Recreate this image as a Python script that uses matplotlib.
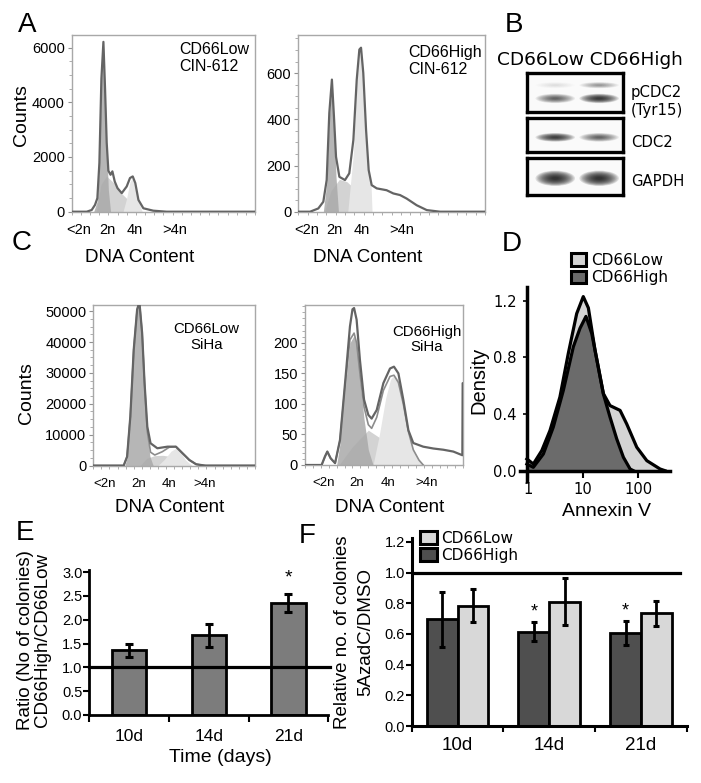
import matplotlib
matplotlib.use('Agg')
import matplotlib.pyplot as plt
from matplotlib.patches import Ellipse, Patch
from matplotlib.ticker import MultipleLocator, FixedLocator, NullFormatter, FixedFormatter
import numpy as np

plt.rcParams['font.family'] = ['Liberation Sans', 'DejaVu Sans']

# ---------------- data ----------------
ploidy = ['<2n', '2n', '4n', '>4n']

# Panel A left: CD66Low CIN-612 (channel 0-1000, counts)
AL_x = [0, 82, 109, 127, 140, 151, 162, 173, 182, 191, 200, 212, 222, 235, 250, 273, 300, 318, 333, 347, 364, 391, 445, 518, 1000]
AL_y = [0, 0, 62, 247, 494, 1784, 4855, 6209, 4487, 2521, 1500, 1350, 1475, 1100, 860, 678, 922, 1231, 1290, 1047, 431, 125, 37, 0, 0]
AL_g1_x = [120, 140, 151, 162, 173, 182, 191, 200, 212]
AL_g1_y = [0, 400, 1700, 4800, 6150, 4400, 2300, 800, 0]
AL_s_x = [135, 160, 190, 230, 270, 310, 345, 375]
AL_s_y = [0, 1000, 1300, 1050, 680, 420, 180, 0]
AL_g2_x = [280, 300, 318, 333, 347, 364, 385]
AL_g2_y = [0, 500, 1100, 1250, 1000, 400, 0]

# Panel A right: CD66High CIN-612
AR_x = [0, 63, 107, 134, 152, 166, 180, 191, 202, 220, 250, 273, 295, 313, 327, 336, 348, 363, 377, 393, 420, 473, 509, 545, 580, 634, 688, 759, 1000]
AR_y = [0, 0, 14, 43, 137, 427, 572, 412, 238, 151, 137, 166, 311, 572, 702, 710, 601, 354, 180, 115, 101, 93, 79, 72, 57, 28, 7, 0, 0]
AR_g1_x = [134, 152, 166, 180, 191, 202, 215]
AR_g1_y = [0, 120, 410, 560, 400, 150, 0]
AR_s_x = [140, 175, 220, 260, 300, 340, 385]
AR_s_y = [0, 90, 140, 130, 100, 55, 0]
AR_g2_x = [265, 295, 313, 327, 336, 348, 363, 377, 390, 395]
AR_g2_y = [0, 250, 560, 690, 700, 590, 350, 170, 110, 0]

# Panel C left: CD66Low SiHa
CL_x = [0, 188, 209, 229, 250, 271, 285, 302, 317, 334, 354, 396, 459, 511, 552, 594, 636, 688, 1000]
CL_y = [0, 0, 2857, 15845, 37500, 50490, 53000, 42920, 26690, 12600, 7208, 5585, 6104, 6104, 3961, 1786, 400, 0, 0]
CL_fit_x = [188, 209, 229, 250, 271, 285, 302, 317, 334, 354, 380, 427, 469, 511, 552, 594, 636, 688]
CL_fit_y = [0, 2857, 15845, 37500, 50490, 53000, 42920, 26690, 11000, 4300, 3400, 4480, 5900, 6104, 3961, 1786, 400, 0]
CL_g1_x = [195, 209, 229, 250, 271, 285, 302, 317, 334, 350, 370]
CL_g1_y = [0, 2500, 15000, 37000, 50000, 53000, 42000, 25000, 10000, 3000, 0]
CL_s_x = [290, 330, 380, 430, 480, 530, 570]
CL_s_y = [0, 2300, 3200, 3300, 2900, 1700, 0]
CL_g2_x = [400, 440, 480, 511, 540, 570, 610]
CL_g2_y = [0, 2000, 4600, 5600, 4300, 1800, 0]

# Panel C right: CD66High SiHa
CR_x = [0, 105, 126, 141, 162, 190, 221, 253, 284, 300, 310, 326, 347, 373, 400, 421, 453, 495, 537, 562, 590, 621, 653, 684, 747, 811, 874, 937, 994, 996, 1000]
CR_y = [0, 0, 14, 22, 11, 3, 41, 134, 227, 255, 257, 238, 172, 107, 82, 76, 90, 134, 158, 161, 150, 107, 57, 36, 30, 27, 25, 22, 16, 134, 134]
CR_fit_x = [105, 126, 141, 162, 190, 221, 253, 284, 310, 326, 347, 373, 400, 421, 453, 495, 537, 562, 590, 621, 653, 684, 720, 747]
CR_fit_y = [0, 13, 22, 11, 3, 40, 130, 205, 216, 200, 150, 95, 66, 60, 78, 122, 145, 147, 135, 100, 55, 25, 8, 0]
CR_g1_x = [200, 221, 253, 284, 310, 326, 347, 373, 400, 430]
CR_g1_y = [0, 35, 125, 200, 212, 195, 140, 75, 25, 0]
CR_s_x = [215, 300, 400, 470, 540, 620]
CR_s_y = [0, 30, 57, 45, 20, 0]
CR_g2_x = [430, 470, 510, 540, 562, 590, 621, 653, 684, 720, 750]
CR_g2_y = [0, 50, 110, 140, 147, 140, 105, 58, 25, 8, 0]

# Panel B: western blot band intensities (lanes: CD66Low, CD66High)
lanes = ['CD66Low', 'CD66High']
pcdc2_main = [0.55, 0.9]
pcdc2_upper = [0.08, 0.3]
cdc2_band = [0.85, 0.55]
gapdh_band = [1.0, 1.0]

# Panel D: Annexin V density
groups = ['CD66Low', 'CD66High']
D_low_x = [0.955, 1.25, 1.78, 2.51, 3.80, 5.41, 7.67, 10.1, 12.5, 16.5, 23.4, 30.9, 47.1, 62.2, 94.6, 144, 251, 309]
D_low_d = [0.083, 0.047, 0.142, 0.284, 0.52, 0.83, 1.11, 1.23, 1.15, 0.852, 0.545, 0.46, 0.426, 0.33, 0.166, 0.071, 0.012, 0.0]
D_high_x = [0.955, 1.25, 1.90, 2.88, 4.39, 6.67, 8.8, 11.3, 14.4, 17.5, 23.5, 30.9, 40.9, 54.1, 71.6, 82.2]
D_high_d = [0.047, 0.024, 0.118, 0.308, 0.568, 0.876, 1.006, 1.09, 0.97, 0.80, 0.54, 0.379, 0.225, 0.095, 0.012, 0.0]

# Panel E
days = ['10d', '14d', '21d']
E_ratio = [1.36, 1.67, 2.36]
E_err = [0.14, 0.25, 0.19]
E_sig = [False, False, True]

# Panel F
F_high = [0.695, 0.615, 0.605]
F_high_err = [0.18, 0.06, 0.076]
F_low = [0.785, 0.81, 0.735]
F_low_err = [0.105, 0.152, 0.082]
F_sig = [False, True, True]

# ---------------- figure ----------------
W, H = 701, 783
fig = plt.figure(figsize=(W / 100, H / 100), dpi=100)


def px_axes(l, t, r, b):
    return fig.add_axes([l / W, 1 - b / H, (r - l) / W, (b - t) / H])


def ftext(x, y, s, **kw):
    return fig.text(x / W, 1 - y / H, s, **kw)


def flow_hist(ax, x, y, fit, g1, s, g2, ylim, yticks, yminor, tick_pos, tick_fs, xt_pad,
              label, lxy, lha, lfs):
    ax.fill_between(s[0], s[1], color='#d3d3d3', lw=0, zorder=1)
    ax.fill_between(g2[0], g2[1], color='#e6e6e6', lw=0, zorder=1)
    ax.fill_between(g1[0], g1[1], color='#a9a9a9', lw=0, alpha=0.85, zorder=2)
    if fit is not None:
        ax.plot(fit[0], fit[1], color='#8c8c8c', lw=1.2, zorder=3)
    ax.plot(x, y, color='#646464', lw=1.6, zorder=4)
    ax.set_xlim(0, 1000)
    ax.set_ylim(*ylim)
    for sp in ax.spines.values():
        sp.set_color('#a8a8a8')
        sp.set_linewidth(1.0)
    ax.set_yticks(yticks)
    ax.yaxis.set_minor_locator(MultipleLocator(yminor))
    ax.tick_params(axis='y', which='major', length=3, color='#909090', labelsize=10.5, pad=2)
    ax.tick_params(axis='y', which='minor', length=2, color='#a0a0a0')
    ax.set_xticks(tick_pos)
    ax.set_xticklabels(ploidy)
    ax.xaxis.set_minor_locator(MultipleLocator(50))
    ax.tick_params(axis='x', which='major', length=0, labelsize=tick_fs, pad=xt_pad)
    ax.tick_params(axis='x', which='minor', length=2.5, color='#a0a0a0')
    ax.text(lxy[0], lxy[1], label, transform=ax.transAxes, ha=lha, va='center',
            fontsize=lfs, linespacing=1.15, multialignment=lha)


# Panel A
axAL = px_axes(71.7, 35, 255, 211.7)
flow_hist(axAL, AL_x, AL_y, None, (AL_g1_x, AL_g1_y), (AL_s_x, AL_s_y), (AL_g2_x, AL_g2_y),
          (0, 6460), [0, 2000, 4000, 6000], 500, [37, 193, 345, 562], 10.5, 8,
          'CD66Low\nCIN-612', (0.585, 0.869), 'left', 11.5)
axAR = px_axes(298.3, 35, 485, 211.7)
flow_hist(axAR, AR_x, AR_y, None, (AR_g1_x, AR_g1_y), (AR_s_x, AR_s_y), (AR_g2_x, AR_g2_y),
          (0, 765), [0, 200, 400, 600], 50, [45, 191, 341, 555], 10.5, 8,
          'CD66High\nCIN-612', (0.589, 0.854), 'left', 11.5)

# Panel C
axCL = px_axes(93.3, 305, 255, 465.5)
flow_hist(axCL, CL_x, CL_y, (CL_fit_x, CL_fit_y), (CL_g1_x, CL_g1_y), (CL_s_x, CL_s_y), (CL_g2_x, CL_g2_y),
          (0, 52000), [0, 10000, 20000, 30000, 40000, 50000], 2500, [73, 281, 469, 688], 9.5, 9,
          'CD66Low\nSiHa', (0.70, 0.80), 'center', 10.8)
axCR = px_axes(305, 305, 463.3, 465)
flow_hist(axCR, CR_x, CR_y, (CR_fit_x, CR_fit_y), (CR_g1_x, CR_g1_y), (CR_s_x, CR_s_y), (CR_g2_x, CR_g2_y),
          (0, 262), [0, 50, 100, 150, 200], 10, [116, 327, 526, 769], 9.5, 9,
          'CD66High\nSiHa', (0.77, 0.784), 'center', 10.8)

for (x, y) in [(140, 257), (368, 257), (170, 507), (390, 507)]:
    ftext(x, y, 'DNA Content', ha='center', va='center', fontsize=13.5)
ftext(21.7, 115, 'Counts', ha='center', va='center', rotation=90, fontsize=14)
ftext(26.7, 393, 'Counts', ha='center', va='center', rotation=90, fontsize=14)

# Panel B: western blot
ftext(590, 60, ' '.join(lanes), ha='center', va='center', fontsize=13.3, family='DejaVu Sans')


def blot_box(t, b, bands, label, label_y):
    ax = px_axes(526.7, t, 623.3, b)
    ax.set_xlim(-0.65, 1.55)
    ax.set_ylim(0, 1)
    ax.set_xticks([])
    ax.set_yticks([])
    ax.set_facecolor('#fafafa')
    for sp in ax.spines.values():
        sp.set_linewidth(2.4)
        sp.set_color('black')
    for intens, yc, hgt in bands:
        for lane, val in enumerate(intens):
            for k in range(14):
                sc = 1 - k * 0.065
                ax.add_patch(Ellipse((lane, yc), 0.9 * sc, hgt * sc, facecolor='#111111',
                                     alpha=min(1, val * 0.12), lw=0))
    ftext(631, label_y, label, ha='left', va='center', fontsize=10.7,
          family='DejaVu Sans', linespacing=1.25)


blot_box(72.7, 111.7, [(pcdc2_main, 0.34, 0.24), (pcdc2_upper, 0.68, 0.16)], 'pCDC2\n(Tyr15)', 102)
blot_box(118.3, 151.7, [(cdc2_band, 0.43, 0.26)], 'CDC2', 142.7)
blot_box(158.3, 195, [(gapdh_band, 0.455, 0.42)], 'GAPDH', 181.7)

# Panel D
axD = px_axes(520, 286.7, 670, 470.7)
axD.set_xscale('log')
axD.set_xlim(0.716, 380)
axD.set_ylim(0, 1.30)
axD.fill_between(D_low_x, D_low_d, color='#d4d4d4', lw=0, zorder=1)
axD.fill_between(D_high_x, D_high_d, color='#6b6b6b', lw=0, zorder=2)
axD.plot(D_low_x, D_low_d, color='black', lw=2.3, zorder=3)
axD.plot(D_high_x, D_high_d, color='black', lw=2.3, zorder=4)
for sp in ['top', 'right']:
    axD.spines[sp].set_visible(False)
axD.spines['left'].set_position(('data', 0.946))
axD.spines['left'].set_bounds(-0.07, 1.30)
axD.spines['left'].set_linewidth(2.5)
axD.spines['bottom'].set_linewidth(2.5)
axD.set_yticks([0.0, 0.4, 0.8, 1.2])
axD.set_yticklabels(['0.0', '0.4', '0.8', '1.2'])
axD.xaxis.set_major_locator(FixedLocator([1, 10, 100]))
axD.xaxis.set_major_formatter(FixedFormatter(['1', '10', '100']))
axD.xaxis.set_minor_locator(FixedLocator([]))
axD.tick_params(axis='y', length=3, width=1.2, labelsize=10.6, pad=4)
axD.tick_params(axis='x', length=5, width=1.5, labelsize=10.6, pad=3)
for lab in axD.get_xticklabels() + axD.get_yticklabels():
    lab.set_family('DejaVu Sans')
ftext(479, 380, 'Density', ha='center', va='center', rotation=90, fontsize=14.5)
ftext(606.7, 511.7, 'Annexin V', ha='center', va='center', fontsize=14)
handlesD = [Patch(facecolor=c, edgecolor='black', lw=2.2) for c in ['#d4d4d4', '#6b6b6b']]
axD.legend(handlesD, groups, loc='upper left', bbox_to_anchor=(571 / W, 1 - 253 / H),
           bbox_transform=fig.transFigure, frameon=False, handlelength=1.0, handleheight=0.9,
           handletextpad=0.3, labelspacing=0.15, borderpad=0, borderaxespad=0,
           prop={'family': 'DejaVu Sans', 'size': 11})

# Panel E
axE = px_axes(89.3, 569.8, 328.3, 715)
xE = np.arange(len(days)) + 0.5
axE.bar(xE, E_ratio, width=0.43, color='#7c7c7c', edgecolor='black', lw=2, zorder=2)
axE.errorbar(xE, E_ratio, yerr=E_err, fmt='none', ecolor='black', elinewidth=2,
             capsize=2.6, capthick=2.2, zorder=3)
axE.plot([0, 3.02], [1, 1], color='black', lw=2.3, zorder=4, clip_on=False)
for xi, v, e, sg in zip(xE, E_ratio, E_err, E_sig):
    if sg:
        axE.text(xi, v + e + 0.32, '*', ha='center', va='center', fontsize=14)
axE.set_xlim(0, 3)
axE.set_ylim(0, 3.05)
for sp in ['top', 'right']:
    axE.spines[sp].set_visible(False)
axE.spines['left'].set_linewidth(2)
axE.spines['bottom'].set_linewidth(2)
axE.set_yticks(np.arange(0, 3.01, 0.5))
axE.set_yticklabels(['%.1f' % v for v in np.arange(0, 3.01, 0.5)])
axE.set_xticks([0, 1, 2, 3])
axE.xaxis.set_major_formatter(NullFormatter())
axE.set_xticks(xE, minor=True)
axE.set_xticklabels(days, minor=True)
axE.tick_params(axis='y', length=4, width=1.5, labelsize=10.5, pad=1)
axE.tick_params(axis='x', which='major', length=5, width=1.5)
axE.tick_params(axis='x', which='minor', length=0, labelsize=12.5, pad=10)
ftext(220, 757, 'Time (days)', ha='center', va='center', fontsize=14)
ftext(34, 640, 'Ratio (No of colonies)\nCD66High/CD66Low', ha='center', va='center',
      rotation=90, fontsize=13.5, linespacing=1.0)

# Panel F
axF = px_axes(411.7, 538.3, 686.7, 726)
xF = np.arange(len(days)) + 0.5
bw = 0.335
axF.bar(xF - bw / 2, F_high, width=bw, color='#4f4f4f', edgecolor='black', lw=2, zorder=2)
axF.bar(xF + bw / 2, F_low, width=bw, color='#d8d8d8', edgecolor='black', lw=2, zorder=2)
axF.errorbar(xF - bw / 2, F_high, yerr=F_high_err, fmt='none', ecolor='black', elinewidth=2,
             capsize=2.4, capthick=2.2, zorder=3)
axF.errorbar(xF + bw / 2, F_low, yerr=F_low_err, fmt='none', ecolor='black', elinewidth=2,
             capsize=2.4, capthick=2.2, zorder=3)
axF.plot([0, 2.93], [1, 1], color='black', lw=2.3, zorder=4)
for xi, v, e, sg in zip(xF - bw / 2, F_high, F_high_err, F_sig):
    if sg:
        axF.text(xi, v + e + 0.07, '*', ha='center', va='center', fontsize=13)
axF.set_xlim(0, 3)
axF.set_ylim(0, 1.223)
for sp in ['top', 'right']:
    axF.spines[sp].set_visible(False)
axF.spines['left'].set_linewidth(2.2)
axF.spines['bottom'].set_linewidth(2.2)
axF.set_yticks(np.arange(0, 1.21, 0.2))
axF.set_yticklabels(['%.1f' % v for v in np.arange(0, 1.21, 0.2)])
axF.set_xticks([0, 1, 2, 3])
axF.xaxis.set_major_formatter(NullFormatter())
axF.set_xticks(xF, minor=True)
axF.set_xticklabels(days, minor=True)
axF.tick_params(axis='y', length=4, width=1.5, labelsize=10.5, pad=1)
axF.tick_params(axis='x', which='major', length=4, width=1.5)
axF.tick_params(axis='x', which='minor', length=0, labelsize=13.5, pad=8)
ftext(354, 632, 'Relative no. of colonies\n5AzadC/DMSO', ha='center', va='center',
      rotation=90, fontsize=13.5, linespacing=1.45)
handlesF = [Patch(facecolor=c, edgecolor='black', lw=2.2) for c in ['#d8d8d8', '#4f4f4f']]
axF.legend(handlesF, ['CD66Low', 'CD66High'], loc='upper left', bbox_to_anchor=(420 / W, 1 - 531 / H),
           bbox_transform=fig.transFigure, frameon=False, handlelength=1.1, handleheight=0.9,
           handletextpad=0.3, labelspacing=0.12, borderpad=0, borderaxespad=0,
           prop={'family': 'DejaVu Sans', 'size': 11})

# Panel letters
for (x, y, s) in [(26.7, 25, 'A'), (514, 25, 'B'), (22, 243, 'C'), (512, 244, 'D'),
                  (25, 533, 'E'), (307, 536, 'F')]:
    ftext(x, y, s, ha='center', va='center', fontsize=20)

fig.savefig('out.png', dpi=100)
